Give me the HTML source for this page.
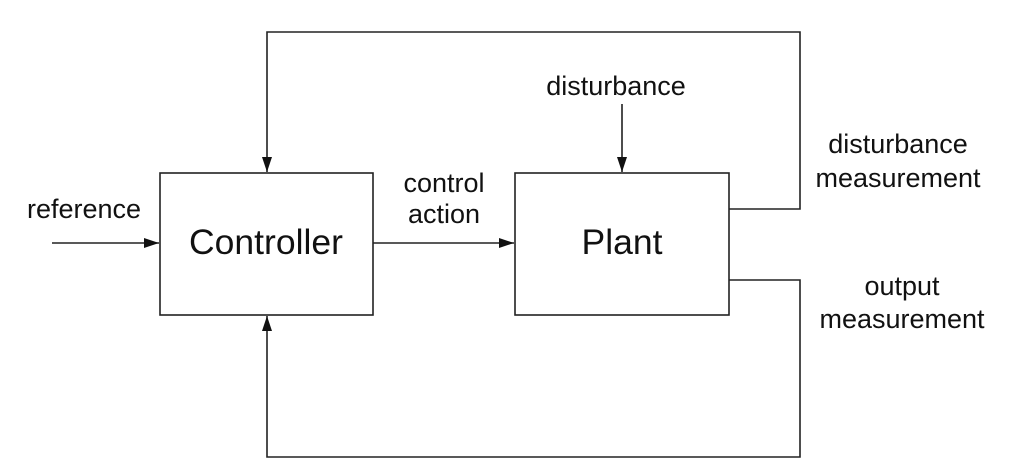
<!DOCTYPE html>
<html><head><meta charset="utf-8"><style>
html,body{margin:0;padding:0;background:#fff;}
svg{display:block;}
text{font-family:"Liberation Sans",Arial,sans-serif;fill:#111;}
</style></head><body>
<svg width="1026" height="467" viewBox="0 0 1026 467" xmlns="http://www.w3.org/2000/svg">
<defs>
<marker id="a" markerWidth="16" markerHeight="12" refX="15" refY="5" orient="auto" markerUnits="userSpaceOnUse">
<path d="M0,0 L15,5 L0,10 Z" fill="#111"/>
</marker>
</defs>
<g stroke="#222" stroke-width="1.6" fill="none">
<rect x="160" y="173" width="213" height="142"/>
<rect x="515" y="173" width="214" height="142"/>
<line x1="52" y1="243" x2="159" y2="243" marker-end="url(#a)"/>
<line x1="373" y1="243" x2="514" y2="243" marker-end="url(#a)"/>
<line x1="622" y1="104" x2="622" y2="172" marker-end="url(#a)"/>
<polyline points="729,209 800,209 800,32 267,32 267,172" marker-end="url(#a)"/>
<polyline points="729,280 800,280 800,457 267,457 267,316" marker-end="url(#a)"/>
</g>
<text x="266" y="254" font-size="35.5" text-anchor="middle">Controller</text>
<text x="622" y="254" font-size="35.5" text-anchor="middle">Plant</text>
<text x="84" y="218" font-size="27" text-anchor="middle">reference</text>
<text x="444" y="192" font-size="27" text-anchor="middle">control</text>
<text x="444" y="223" font-size="27" text-anchor="middle">action</text>
<text x="616" y="95" font-size="27" text-anchor="middle">disturbance</text>
<text x="898" y="153" font-size="27" text-anchor="middle">disturbance</text>
<text x="898" y="187" font-size="27" text-anchor="middle">measurement</text>
<text x="902" y="295" font-size="27" text-anchor="middle">output</text>
<text x="902" y="328" font-size="27" text-anchor="middle">measurement</text>
</svg>
</body></html>
